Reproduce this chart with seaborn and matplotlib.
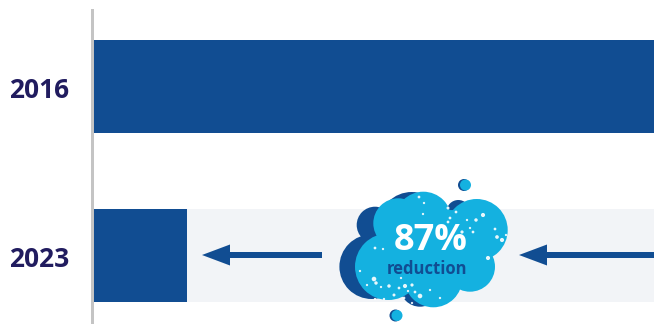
import matplotlib
matplotlib.use("Agg")
import matplotlib.pyplot as plt
from matplotlib.patches import Circle, FancyArrow
from matplotlib.transforms import ScaledTranslation
import pandas as pd
import seaborn as sns

years = ["2016", "2023"]
values = [100, 13]
baseline = [100, 100]
reduction_label = "87%"
reduction_caption = "reduction"

NAVY = "#114d92"
SKY = "#14b1e0"
TRACK = "#f2f4f7"
INK = "#211c5f"

sns.set_theme(style="white")
plt.rcParams["font.family"] = ["Open Sans", "DejaVu Sans"]

W, H = 656, 324
fig = plt.figure(figsize=(W / 100, H / 100), dpi=100, facecolor="white")
ax = fig.add_axes([94 / W, 0, 560 / W, 314 / H])

df = pd.DataFrame({"year": years, "value": values, "baseline": baseline})
sns.barplot(data=df, y="year", x="baseline", orient="h", color=TRACK, width=0.55,
            saturation=1, linewidth=0, ax=ax)
sns.barplot(data=df, y="year", x="value", orient="h", color=NAVY, width=0.55,
            saturation=1, linewidth=0, ax=ax)

# Moving a spine resets the ticks, so it comes before the tick styling.
sns.despine(ax=ax, top=True, right=True, bottom=True)
ax.spines["left"].set_color("#c4c4c4")
ax.spines["left"].set_linewidth(2.16)
ax.spines["left"].set_position(("outward", 1.08))

# The scale is cut off short of the full 2016 bar.
ax.set_xlim(0, 78.3)
ax.set_ylim(1.405, -0.4527)
ax.set_xlabel("")
ax.set_ylabel("")
ax.set_xticks([])
ax.set_yticks([0, 1])
ax.set_yticklabels(years, fontsize=19, fontweight="bold", color=INK)
ax.tick_params(axis="y", length=0, pad=17)
nudge = ScaledTranslation(0, -0.4 / 72, fig.dpi_scale_trans)
for label in ax.get_yticklabels():
    label.set_transform(label.get_transform() + nudge)

# Callout layer, laid out in pixels over the chart.
ov = fig.add_axes([0, 0, 1, 1], facecolor="none")
ov.set_xlim(0, W)
ov.set_ylim(H, 0)
ov.axis("off")

for x0, x1 in [(322, 202), (654, 519)]:
    ov.add_patch(FancyArrow(x0, 255, x1 - x0, 0, width=6, head_width=21, head_length=28,
                            length_includes_head=True, color=NAVY, lw=0))

dark_lobes = [(371.7, 266.7, 32.3), (375, 225, 18.3), (411.7, 225, 33), (420, 286.7, 20),
              (458.3, 211.7, 11.7), (395, 250, 30)]
light_lobes = [(388.3, 266.7, 33.3), (398.3, 223.3, 25), (423.3, 220, 28.3), (476.7, 230, 31),
               (470, 266.7, 25), (433.3, 278.3, 29), (430, 246.7, 40), (450, 240, 30)]
for cx, cy, r in dark_lobes:
    ov.add_patch(Circle((cx, cy), r, color=NAVY, lw=0))
for cx, cy, r in light_lobes:
    ov.add_patch(Circle((cx, cy), r, color=SKY, lw=0))

for cx, cy in [(465, 185), (396.5, 315.5)]:
    ov.add_patch(Circle((cx - 1, cy), 6, color=NAVY, lw=0))
    ov.add_patch(Circle((cx + 0.5, cy), 5.5, color=SKY, lw=0))

speckles = [(419, 197, 1.2), (424, 203, 1), (448, 208, 1.3), (483, 215, 1.8), (476, 220, 1.5),
            (448, 222, 1.2), (470, 228, 1), (497, 237, 1.6), (502, 240, 1.8), (506, 235, 1),
            (473, 232, 1.2), (488, 258, 1.8), (375, 248, 1.2), (383, 249, 1), (360, 271, 1),
            (374, 279, 2), (376, 283, 1.5), (381, 287, 1), (401, 278, 1), (384, 299, 1),
            (394, 295, 1.3), (399, 288, 1.2), (405, 286, 1.8), (412, 285, 1.4), (420, 296, 2),
            (408, 291, 1), (367, 285, 1), (389, 286, 1.5), (462, 232, 1.4), (467, 220, 1),
            (440, 298, 1), (375, 299, 1), (412, 303, 1), (423, 214, 1), (450, 218, 1.2),
            (456, 212, 1.2), (495, 229, 1.2), (415, 292, 1.2), (404, 298, 1.2), (430, 290, 1)]
for cx, cy, r in speckles:
    ov.add_patch(Circle((cx, cy), r * 1.15, color="white", lw=0, alpha=0.9))

ov.text(431, 241, reduction_label, color="white", fontsize=26, fontweight="bold",
        ha="center", va="center")
ov.text(427, 269, reduction_caption, color=NAVY, fontsize=12, fontweight="bold",
        ha="center", va="center")

fig.savefig("out.png", dpi=100)
